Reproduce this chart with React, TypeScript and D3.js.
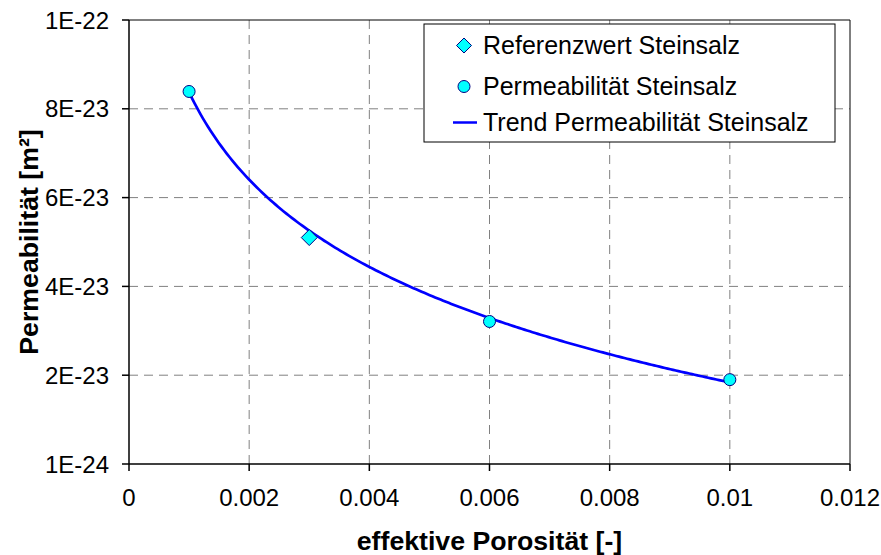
import React from "react";
import * as d3 from "d3";

// ---- data ----
const porosityMeasured = [0.001, 0.006, 0.01];
const permeabilityMeasured = [8.49e-23, 3.31e-23, 2.0e-23];
const porosityReference = [0.003];
const permeabilityReference = [5.2e-23];
const xTickValues = [0, 0.002, 0.004, 0.006, 0.008, 0.01, 0.012];
const xTickLabels = ["0", "0.002", "0.004", "0.006", "0.008", "0.01", "0.012"];
const yTickValues = [1e-24, 2.1e-23, 4.1e-23, 6.1e-23, 8.1e-23, 1.01e-22];
const yTickLabels = ["1E-24", "2E-23", "4E-23", "6E-23", "8E-23", "1E-22"];
const legendLabels = ["Referenzwert Steinsalz", "Permeabilität Steinsalz", "Trend Permeabilität Steinsalz"];

const W = 881, H = 555;
const M = { left: 129, right: 850, top: 20, bottom: 464 };
const FONT = "'Liberation Sans', Arial, sans-serif";

export default function App() {
  const x = d3.scaleLinear().domain([0, 0.012]).range([M.left, M.right]);
  const y = d3.scaleLinear().domain([1e-24, 1.01e-22]).range([M.bottom, M.top]);

  // logarithmic least-squares trend (as Excel's log trendline) of measured series
  const lx = porosityMeasured.map(Math.log);
  const mx = d3.mean(lx)!;
  const my = d3.mean(permeabilityMeasured)!;
  let sxy = 0, sxx = 0;
  lx.forEach((v, i) => { sxy += (v - mx) * (permeabilityMeasured[i] - my); sxx += (v - mx) ** 2; });
  const b = sxy / sxx;
  const a = my - b * mx;
  const x0 = d3.min(porosityMeasured)!, x1 = d3.max(porosityMeasured)!;
  const trendX = d3.range(0, 201).map(i => x0 + (x1 - x0) * i / 200);
  const trend = trendX.map(v => [v, a + b * Math.log(v)] as [number, number]);
  const line = d3.line<[number, number]>().x(d => x(d[0])).y(d => y(d[1]));

  const diamond = (cx: number, cy: number, r: number) =>
    `M${cx},${cy - r}L${cx + r},${cy}L${cx},${cy + r}L${cx - r},${cy}Z`;

  const lgX = 424, lgY = 24, lgW = 411, lgH = 118;
  const rowY = [45.5, 86.5, 122.5];

  return (
    <svg width={W} height={H} style={{ position: "absolute", left: 0, top: 0, background: "#fff" }}
      fontFamily={FONT}>
      <rect x={0} y={0} width={W} height={H} fill="#fff" />
      {/* grid */}
      {yTickValues.slice(1, -1).map((v, i) => (
        <line key={"gy" + i} x1={M.left} x2={M.right} y1={y(v)} y2={y(v)}
          stroke="#808080" strokeWidth={1} strokeDasharray="9,6" />
      ))}
      {xTickValues.slice(1, -1).map((v, i) => (
        <line key={"gx" + i} x1={x(v)} x2={x(v)} y1={M.top} y2={M.bottom}
          stroke="#808080" strokeWidth={1} strokeDasharray="9,6" />
      ))}
      {/* plot border */}
      <line x1={M.left} x2={M.right} y1={M.top} y2={M.top} stroke="#000" strokeWidth={1} />
      <line x1={M.right} x2={M.right} y1={M.top} y2={M.bottom} stroke="#000" strokeWidth={1} />
      {/* axes */}
      <line x1={M.left} x2={M.left} y1={M.top} y2={M.bottom} stroke="#000" strokeWidth={1.5} />
      <line x1={M.left} x2={M.right} y1={M.bottom} y2={M.bottom} stroke="#000" strokeWidth={1.5} />
      {yTickValues.map((v, i) => (
        <g key={"yt" + i}>
          <line x1={M.left - 7} x2={M.left} y1={y(v)} y2={y(v)} stroke="#000" strokeWidth={1.5} />
          <text x={109} y={y(v) + 8.5} textAnchor="end" fontSize={24} fill="#000">{yTickLabels[i]}</text>
        </g>
      ))}
      {xTickValues.map((v, i) => (
        <g key={"xt" + i}>
          <line x1={x(v)} x2={x(v)} y1={M.bottom} y2={M.bottom + 7} stroke="#000" strokeWidth={1.5} />
          <text x={x(v)} y={506} textAnchor="middle" fontSize={24} fill="#000">{xTickLabels[i]}</text>
        </g>
      ))}
      {/* titles */}
      <text x={(M.left + M.right) / 2} y={550} textAnchor="middle" fontSize={26.7} fontWeight="bold">effektive Porosität [-]</text>
      <text transform={`translate(38,${(M.top + M.bottom) / 2}) rotate(-90)`} textAnchor="middle"
        fontSize={26.7} fontWeight="bold">Permeabilität [m²]</text>
      {/* trend */}
      <path d={line(trend) || ""} fill="none" stroke="#0000FF" strokeWidth={2.7} />
      {/* measured */}
      {porosityMeasured.map((v, i) => (
        <circle key={"c" + i} cx={x(v)} cy={y(permeabilityMeasured[i])} r={6}
          fill="#00FFFF" stroke="#000080" strokeWidth={1} />
      ))}
      {porosityReference.map((v, i) => (
        <path key={"d" + i} d={diamond(x(v), y(permeabilityReference[i]), 8)}
          fill="#00FFFF" stroke="#000080" strokeWidth={1} />
      ))}
      {/* legend */}
      <rect x={lgX} y={lgY} width={lgW} height={lgH} fill="#fff" stroke="#000" strokeWidth={1} />
      <path d={diamond(464, rowY[0], 7.5)} fill="#00FFFF" stroke="#000080" strokeWidth={1} />
      <circle cx={464} cy={rowY[1]} r={6} fill="#00FFFF" stroke="#000080" strokeWidth={1} />
      <line x1={453} x2={477} y1={rowY[2]} y2={rowY[2]} stroke="#0000FF" strokeWidth={2.5} />
      {legendLabels.map((t, i) => (
        <text key={"lg" + i} x={483} y={rowY[i] + 8.5} fontSize={25} fill="#000">{t}</text>
      ))}
    </svg>
  );
}
